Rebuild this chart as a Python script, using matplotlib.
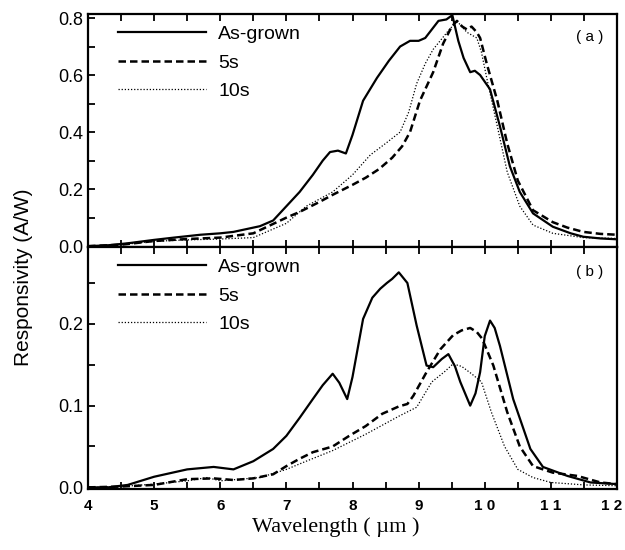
import matplotlib
matplotlib.use("Agg")
import matplotlib.pyplot as plt
import matplotlib.transforms as mtransforms
from matplotlib.ticker import MultipleLocator

plt.rcParams['font.family'] = ['Liberation Sans', 'DejaVu Sans']

# panel (a) spectra
wl_a_grown = [4.0, 4.3, 4.6, 5.0, 5.3, 5.7, 6.0, 6.2, 6.4, 6.6, 6.8, 7.0, 7.2, 7.4, 7.55,
              7.66, 7.78, 7.9, 8.0, 8.16, 8.37, 8.55, 8.72, 8.87, 9.0, 9.1, 9.2, 9.3,
              9.42, 9.51, 9.6, 9.68, 9.78, 9.85, 9.93, 10.08, 10.23, 10.38, 10.53,
              10.73, 11.03, 11.3, 11.49, 11.75, 12.0]
resp_a_grown = [0.0, 0.003, 0.01, 0.022, 0.03, 0.04, 0.045, 0.05, 0.06, 0.07, 0.09, 0.14,
                0.19, 0.25, 0.30, 0.33, 0.335, 0.325, 0.39, 0.51, 0.59, 0.65, 0.70, 0.72,
                0.72, 0.73, 0.76, 0.79, 0.795, 0.81, 0.72, 0.66, 0.61, 0.615, 0.60, 0.55,
                0.42, 0.28, 0.19, 0.115, 0.068, 0.045, 0.033, 0.027, 0.024]

wl_a_5s = [4.0, 4.5, 5.0, 5.5, 6.0, 6.5, 7.0, 7.2, 7.5, 7.7, 8.0, 8.2, 8.4, 8.6, 8.75,
           8.87, 9.02, 9.22, 9.37, 9.5, 9.58, 9.66, 9.73, 9.8, 9.88, 9.93, 10.03, 10.19,
           10.34, 10.5, 10.73, 11.03, 11.25, 11.49, 11.75, 12.0]
resp_a_5s = [0.0, 0.005, 0.018, 0.025, 0.03, 0.045, 0.10, 0.12, 0.155, 0.18, 0.215, 0.24,
             0.27, 0.31, 0.35, 0.40, 0.51, 0.61, 0.71, 0.77, 0.79, 0.77, 0.76, 0.77, 0.75,
             0.73, 0.64, 0.51, 0.36, 0.23, 0.126, 0.084, 0.065, 0.05, 0.043, 0.04]

wl_a_10s = [4.0, 4.5, 5.0, 5.5, 6.0, 6.5, 7.0, 7.3, 7.7, 8.0, 8.27, 8.5, 8.72, 8.85, 8.97,
            9.1, 9.22, 9.43, 9.58, 9.65, 9.73, 9.88, 9.95, 10.03, 10.19, 10.34, 10.53,
            10.73, 11.03, 11.49, 12.0]
resp_a_10s = [0.0, 0.005, 0.017, 0.022, 0.025, 0.03, 0.08, 0.14, 0.19, 0.25, 0.32, 0.36,
              0.40, 0.47, 0.57, 0.64, 0.69, 0.75, 0.79, 0.77, 0.75, 0.73, 0.68, 0.59,
              0.42, 0.26, 0.14, 0.074, 0.045, 0.03, 0.027]

# panel (b) spectra
wl_b_grown = [4.0, 4.3, 4.6, 5.0, 5.5, 5.9, 6.2, 6.5, 6.8, 7.0, 7.2, 7.4, 7.55, 7.7, 7.8,
              7.92, 8.0, 8.16, 8.3, 8.42, 8.52, 8.6, 8.7, 8.83, 8.97, 9.12, 9.22, 9.35,
              9.45, 9.55, 9.63, 9.78, 9.86, 9.93, 10.0, 10.08, 10.15, 10.23, 10.43,
              10.69, 10.88, 11.25, 11.6, 12.0]
resp_b_grown = [0.0, 0.0, 0.003, 0.013, 0.022, 0.025, 0.022, 0.032, 0.047, 0.063, 0.085,
                0.108, 0.125, 0.139, 0.128, 0.108, 0.135, 0.206, 0.232, 0.243, 0.25, 0.255,
                0.263, 0.25, 0.198, 0.149, 0.147, 0.157, 0.163, 0.148, 0.129, 0.10, 0.115,
                0.141, 0.185, 0.204, 0.195, 0.173, 0.108, 0.047, 0.025, 0.014, 0.006, 0.004]

wl_b_5s = [4.0, 4.5, 5.0, 5.5, 5.9, 6.2, 6.5, 6.8, 7.0, 7.2, 7.4, 7.7, 7.95, 8.2, 8.45,
           8.7, 8.83, 8.92, 9.12, 9.33, 9.52, 9.65, 9.78, 9.88, 9.96, 10.13, 10.34, 10.53,
           10.73, 11.03, 11.4, 11.75, 12.0]
resp_b_5s = [0.0, 0.001, 0.003, 0.01, 0.011, 0.009, 0.011, 0.016, 0.026, 0.035, 0.043,
             0.05, 0.063, 0.075, 0.09, 0.099, 0.102, 0.112, 0.141, 0.169, 0.186, 0.192,
             0.195, 0.19, 0.182, 0.149, 0.092, 0.05, 0.026, 0.018, 0.014, 0.006, 0.004]

wl_b_10s = [4.0, 4.5, 5.0, 5.5, 5.8, 6.0, 6.3, 6.6, 7.0, 7.3, 7.7, 8.2, 8.7, 8.97, 9.2,
            9.4, 9.52, 9.65, 9.8, 9.95, 10.1, 10.3, 10.5, 10.73, 11.0, 11.5, 12.0]
resp_b_10s = [0.0, 0.001, 0.004, 0.008, 0.012, 0.008, 0.01, 0.012, 0.022, 0.032, 0.045,
              0.065, 0.087, 0.098, 0.129, 0.142, 0.151, 0.148, 0.139, 0.129, 0.092, 0.05,
              0.022, 0.012, 0.006, 0.003, 0.002]

labels = ["As-grown", "5s", "10s"]
xtick_vals = [4, 5, 6, 7, 8, 9, 10, 11, 12]
xtick_text = ["4", "5", "6", "7", "8", "9", "1 0", "1 1", "1 2"]

styles = [dict(color="black", lw=1.6, ls="-"),
          dict(color="black", lw=1.8, ls=(0, (3.0, 1.6))),
          dict(color="black", lw=0.9, ls=(0, (1.0, 1.5)))]

fig = plt.figure(figsize=(6.25, 5.5), dpi=100)
ax_a = fig.add_axes([0.1408, 0.5509, 0.8464, 0.4236])
ax_b = fig.add_axes([0.1408, 0.1109, 0.8464, 0.4400])

panels = [
    (ax_a, [(wl_a_grown, resp_a_grown), (wl_a_5s, resp_a_5s), (wl_a_10s, resp_a_10s)]),
    (ax_b, [(wl_b_grown, resp_b_grown), (wl_b_5s, resp_b_5s), (wl_b_10s, resp_b_10s)]),
]

for ax, curves in panels:
    for (x, y), lab, st in zip(curves, labels, styles):
        ax.plot(x, y, label=lab, **st)
    ax.set_xlim(4, 12)
    ax.xaxis.set_minor_locator(MultipleLocator(0.5))
    ax.tick_params(which="both", direction="in", top=True, right=False,
                   length=5, width=1.3, labelsize=13)
    for sp in ax.spines.values():
        sp.set_linewidth(1.6)
    ax.legend(loc="upper left", bbox_to_anchor=(0.035, 1.0), frameon=False,
              fontsize=14, handlelength=4.5, handletextpad=0.65,
              labelspacing=0.55, borderaxespad=0.2)

ax_a.set_ylim(-0.003, 0.814)
ax_a.yaxis.set_major_locator(MultipleLocator(0.2))
ax_a.yaxis.set_minor_locator(MultipleLocator(0.1))
ax_a.set_xticks(xtick_vals)
ax_a.set_xticklabels([])
ax_a.yaxis.set_major_formatter(plt.FuncFormatter(lambda v, p: f"{v:.1f}"))
ax_a.text(0.949, 0.90, "( a )", transform=ax_a.transAxes, fontsize=11,
          ha="center", va="center")

ax_b.set_ylim(-0.002, 0.294)
ax_b.yaxis.set_major_locator(MultipleLocator(0.1))
ax_b.yaxis.set_minor_locator(MultipleLocator(0.05))
ax_b.yaxis.set_major_formatter(plt.FuncFormatter(lambda v, p: f"{v:.1f}"))
ax_b.set_xticks(xtick_vals)
ax_b.set_xticklabels(xtick_text, fontweight="bold", fontsize=11)
ax_b.tick_params(axis="x", pad=7)
ax_b.text(0.949, 0.896, "( b )", transform=ax_b.transAxes, fontsize=11,
          ha="center", va="center")

# pull the last tick label in a little so it stays on the canvas
last = ax_b.get_xticklabels()[-1]
last.set_transform(last.get_transform() +
                   mtransforms.ScaledTranslation(-5 / 100, 0, fig.dpi_scale_trans))

fig.text(0.538, 0.042, "Wavelength ( \u00b5m )", ha="center", va="center",
         family="Liberation Serif", fontsize=16)
fig.text(0.037, 0.496, "Responsivity (A/W)", rotation=90, ha="center", va="center",
         fontsize=15)

fig.savefig("out.png", dpi=100)
